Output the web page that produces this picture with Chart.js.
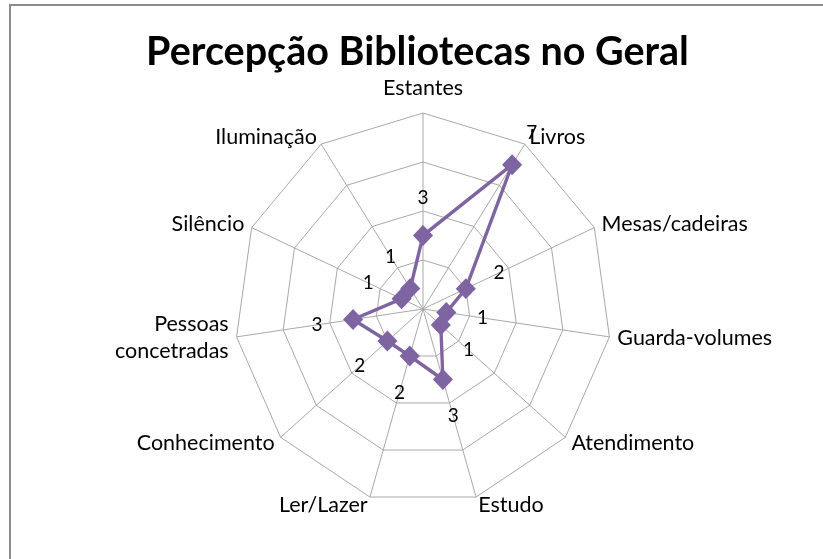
<!DOCTYPE html>
<html>
<head>
<meta charset="utf-8">
<script src="https://cdn.jsdelivr.net/npm/chart.js@4"></script>
<style>
  html, body { margin: 0; padding: 0; background: #fff; }
  #wrap { position: absolute; left: 9px; top: 4px; width: 814px; height: 555px;
          border-left: 2px solid #8c8c8c; border-top: 2px solid #8c8c8c; }
  #chart { position: absolute; left: 0; top: 0; }
  #title { position: absolute; left: 0; top: 26px; width: 835px; text-align: center;
           font: bold 39.5px/47.4px Lato, Calibri, sans-serif; color: #000; white-space: nowrap; }
</style>
</head>
<body>
<div id="wrap"><canvas id="chart" width="812" height="553"></canvas></div>
<div id="title">Percepção Bibliotecas no Geral</div>
<script>
const categories = ['Estantes', 'Livros', 'Mesas/cadeiras', 'Guarda-volumes', 'Atendimento', 'Estudo',
  'Ler/Lazer', 'Conhecimento', ['Pessoas', 'concetradas'], 'Silêncio', 'Iluminação'];
const values = [3, 7, 2, 1, 1, 3, 2, 2, 3, 1, 1];
const scaleMax = 8;
const scaleStep = 2;

const PURPLE = '#7f64a2';
const FONT = 'Lato, Calibri, sans-serif';
const SQUEEZE_X = 0.961;   // the original web is a little narrower than it is tall

// x of a point after the horizontal squeeze around the centre
const sx = (scale, x) => scale.xCenter + (x - scale.xCenter) * SQUEEZE_X;

const squeeze = {
  id: 'squeeze',
  beforeDraw(chart) {
    const cx = chart.scales.r.xCenter;
    const ctx = chart.ctx;
    ctx.save();
    ctx.translate(cx, 0);
    ctx.scale(SQUEEZE_X, 1);
    ctx.translate(-cx, 0);
  },
  afterDatasetsDraw(chart) {
    chart.ctx.restore();
  }
};

// category names: beside each outer vertex, vertically centred on it (Excel style)
const axisLabels = {
  id: 'axisLabels',
  afterDraw(chart) {
    const scale = chart.scales.r;
    const ctx = chart.ctx;
    const R = scale.drawingArea;
    ctx.save();
    ctx.font = '21.5px ' + FONT;
    ctx.fillStyle = '#000';
    ctx.textBaseline = 'middle';
    chart.data.labels.forEach((lab, i) => {
      const p = scale.getPointPosition(i, R);
      const sin = (p.x - scale.xCenter) / R;
      const cos = (scale.yCenter - p.y) / R;
      const lines = Array.isArray(lab) ? lab : [lab];
      let x = sx(scale, p.x), y = p.y;
      if (Math.abs(sin) < 0.05) {
        ctx.textAlign = 'center';
        y = p.y - 25;
      } else {
        ctx.textAlign = sin > 0 ? 'left' : 'right';
        x += Math.sign(sin) * 8 * Math.abs(sin);
        y = p.y - 8 * cos;
      }
      const lh = 27;
      lines.forEach((t, k) => ctx.fillText(t, x, y + (k - (lines.length - 1) / 2) * lh));
    });
    ctx.restore();
  }
};

// numbers printed a bit outside each point, along its own axis
const valueLabels = {
  id: 'valueLabels',
  afterDraw(chart) {
    const scale = chart.scales.r;
    const ctx = chart.ctx;
    ctx.save();
    ctx.font = '19px ' + FONT;
    ctx.fillStyle = '#000';
    ctx.textAlign = 'center';
    ctx.textBaseline = 'middle';
    values.forEach((v, i) => {
      const p = scale.getPointPosition(i, scale.getDistanceFromCenterForValue(v) + 38);
      ctx.fillText(String(v), sx(scale, p.x), p.y);
    });
    ctx.restore();
  }
};

new Chart(document.getElementById('chart'), {
  type: 'radar',
  data: {
    labels: categories,
    datasets: [{
      data: values,
      borderColor: PURPLE,
      backgroundColor: PURPLE,
      borderWidth: 3.5,
      fill: false,
      pointStyle: 'rectRot',
      pointRadius: 8,
      pointBackgroundColor: PURPLE,
      pointBorderColor: PURPLE,
      tension: 0
    }]
  },
  options: {
    responsive: false,
    animation: false,
    layout: { padding: { left: 216, right: 204, top: 107, bottom: 54 } },
    plugins: {
      legend: { display: false },
      tooltip: { enabled: false },
      title: { display: false }
    },
    scales: {
      r: {
        min: 0, max: scaleMax,
        ticks: { stepSize: scaleStep, display: false },
        grid: { color: '#a6a6a6', lineWidth: 1 },
        angleLines: { color: '#a6a6a6', lineWidth: 1 },
        pointLabels: { display: false }
      }
    }
  },
  plugins: [squeeze, valueLabels, axisLabels]
});
</script>
</body>
</html>
